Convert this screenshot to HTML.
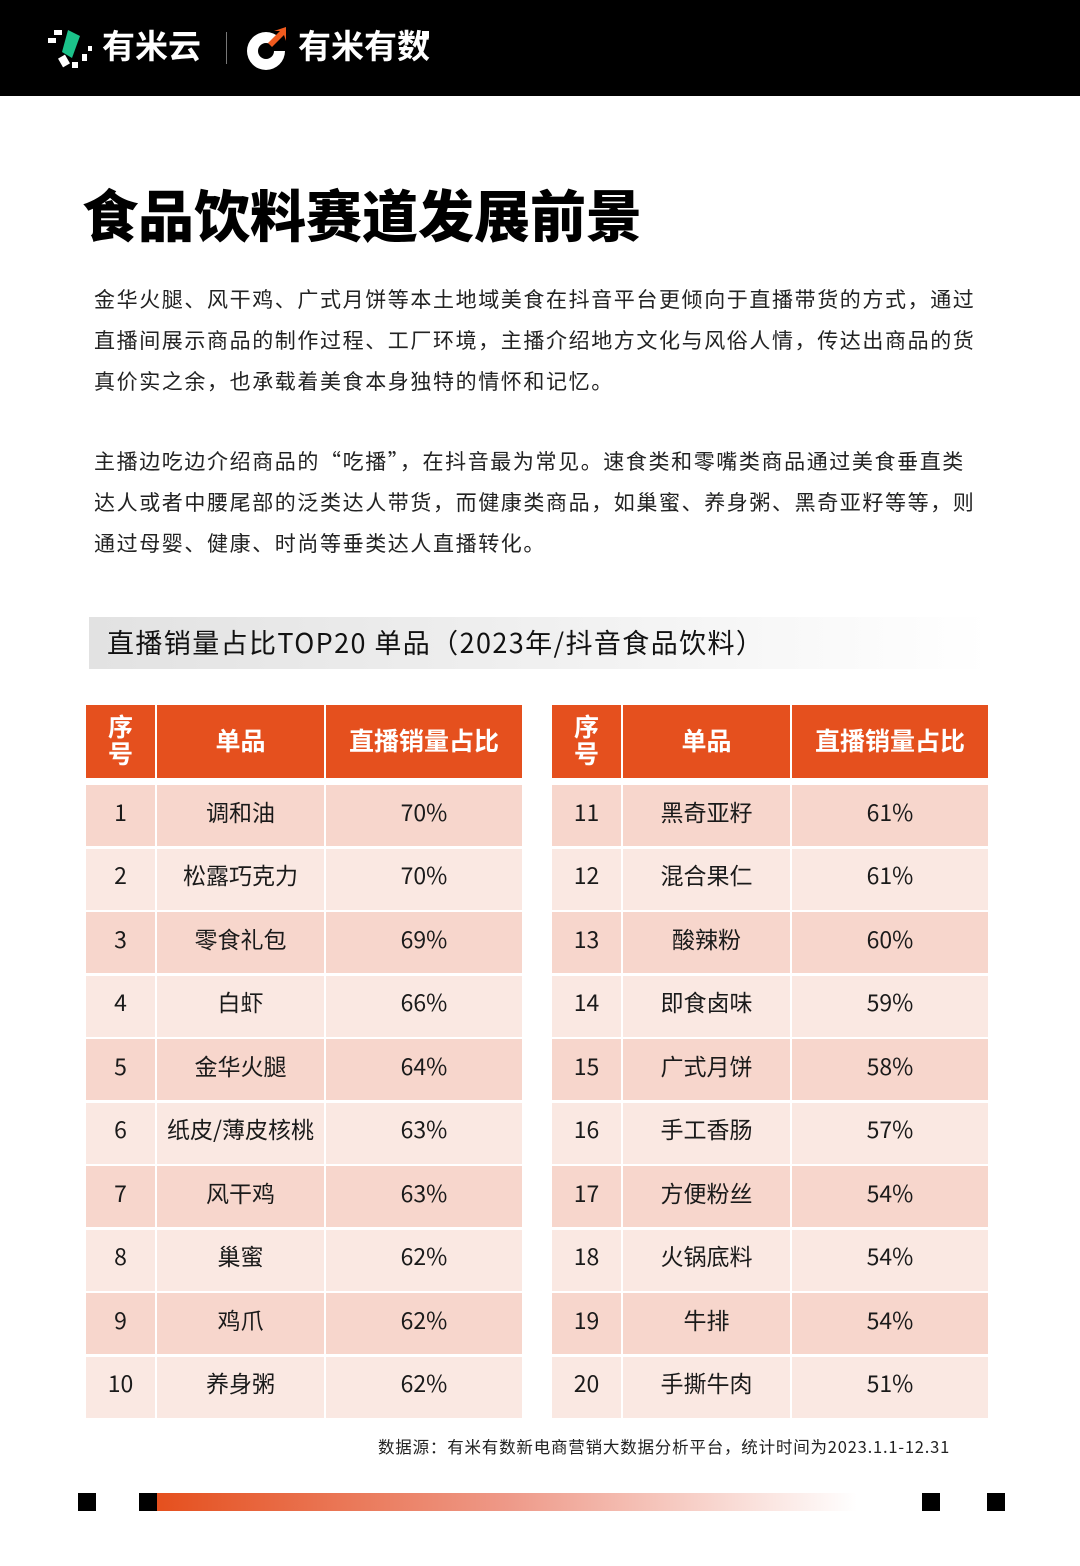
<!DOCTYPE html>
<html><head><meta charset="utf-8">
<style>
*{margin:0;padding:0;box-sizing:border-box}
body{width:1080px;height:1566px;background:#fff;position:relative;overflow:hidden;font-family:"Liberation Sans","Noto Sans CJK SC",sans-serif;color:#1a1a1a}
.abs{position:absolute}
#hdr{left:0;top:0;width:1080px;height:96px;background:#000}
.logo{color:#fff;font-size:33px;font-weight:bold;top:27px;line-height:40px}
#title{left:82px;top:182px;font-size:56px;font-weight:900;line-height:72px;color:#000}
.para{left:94px;font-family:"Noto Sans CJK SC",sans-serif;font-size:21px;line-height:41px;letter-spacing:1.6px;width:960px;color:#222;white-space:nowrap}
#sub{left:89px;top:617px;width:900px;height:52px;background:linear-gradient(90deg,#e2e2e2,#f0f0f0 50%,#fff 100%);font-family:"Noto Sans CJK SC",sans-serif;font-size:27px;line-height:50px;padding-left:18px;color:#111;letter-spacing:1.4px}
.cell{position:absolute;display:flex;align-items:center;justify-content:center;font-family:"Noto Sans CJK SC",sans-serif;font-size:23px;color:#1a1a1a;padding-bottom:10px}
.hd{background:#e5501e;color:#fff;font-weight:bold;font-size:25px;padding-bottom:4px}
#src{left:378px;top:1433px;font-family:"Noto Sans CJK SC",sans-serif;font-size:16.5px;color:#222;line-height:26px;white-space:nowrap;letter-spacing:0.8px}
.sq{position:absolute;top:1493px;width:18px;height:18px;background:#000}
#bar{left:157px;top:1493px;width:700px;height:18px;background:linear-gradient(90deg,#e5501e,#ee9988 50%,#fff 100%)}
</style></head><body>
<div id="hdr" class="abs">
 <svg class="abs" style="left:46px;top:28px" width="50" height="42">
  <rect x="2" y="10" width="8" height="5" fill="#fff"/><rect x="8" y="2" width="8" height="5" fill="#fff"/>
  <polygon points="22,2 34,8 26,30 16,24" fill="#1bc28a"/><rect x="14" y="28" width="8" height="10" fill="#fff" transform="rotate(-30 18 33)"/>
  <rect x="26" y="34" width="6" height="6" fill="#fff"/><rect x="36" y="26" width="5" height="7" fill="#fff"/><rect x="42" y="18" width="4" height="5" fill="#fff"/>
 </svg>
 <div class="abs logo" style="left:102px">有米云</div>
 <div class="abs" style="left:226px;top:32px;width:1px;height:32px;background:#777"></div>
 <svg class="abs" style="left:246px;top:27px" width="44" height="44">
  <circle cx="20" cy="24" r="19" fill="#fff"/><circle cx="20" cy="24" r="8" fill="#000"/>
  <polygon points="20,24 40,4 40,24" fill="#000"/><polygon points="22,16 34,4 28,4 40,0 40,14 38,8 26,20" fill="#f05a1e"/>
 </svg>
 <div class="abs logo" style="left:298px">有米有数</div>
 <div class="abs" style="left:422px;top:31px;width:7px;height:7px;background:#fff"></div>
</div>
<div id="title" class="abs">食品饮料赛道发展前景</div>
<div class="abs para" style="top:279px">金华火腿、风干鸡、广式月饼等本土地域美食在抖音平台更倾向于直播带货的方式，通过<br>直播间展示商品的制作过程、工厂环境，主播介绍地方文化与风俗人情，传达出商品的货<br>真价实之余，也承载着美食本身独特的情怀和记忆。</div>
<div class="abs para" style="top:441px">主播边吃边介绍商品的“吃播”，在抖音最为常见。速食类和零嘴类商品通过美食垂直类<br>达人或者中腰尾部的泛类达人带货，而健康类商品，如巢蜜、养身粥、黑奇亚籽等等，则<br>通过母婴、健康、时尚等垂类达人直播转化。</div>
<div id="sub" class="abs">直播销量占比TOP20 单品（2023年/抖音食品饮料）</div>
<div id="tables"></div>
<div id="src" class="abs">数据源：有米有数新电商营销大数据分析平台，统计时间为2023.1.1-12.31</div>
<div class="sq" style="left:78px"></div>
<div class="sq" style="left:139px"></div>
<div id="bar" class="abs"></div>
<div class="sq" style="left:922px"></div>
<div class="sq" style="left:987px"></div>
<script>
const ranks=[1,2,3,4,5,6,7,8,9,10,11,12,13,14,15,16,17,18,19,20];
const items=["调和油","松露巧克力","零食礼包","白虾","金华火腿","纸皮/薄皮核桃","风干鸡","巢蜜","鸡爪","养身粥","黑奇亚籽","混合果仁","酸辣粉","即食卤味","广式月饼","手工香肠","方便粉丝","火锅底料","牛排","手撕牛肉"];
const shares=[70,70,69,66,64,63,63,62,62,62,61,61,60,59,58,57,54,54,54,51];
const root=document.getElementById('tables');
function cell(x,y,w,h,txt,cls,bg){
 const d=document.createElement('div');
 d.className='cell '+(cls||'');
 
 
 d.style.left=x+'px';d.style.top=y+'px';d.style.width=w+'px';d.style.height=h+'px';
 if(bg)d.style.background=bg;
 d.innerHTML=txt;root.appendChild(d);
}
[86,552].forEach((x0,t)=>{
 const cols=[[x0,69],[x0+71,167],[x0+240,196]];
 cell(cols[0][0],705,cols[0][1],73,'<span style="line-height:27px;text-align:center">序<br>号</span>','hd');
 cell(cols[1][0],705,cols[1][1],73,'单品','hd');
 cell(cols[2][0],705,cols[2][1],73,'直播销量占比','hd');
 for(let i=0;i<10;i++){
  const k=t*10+i;
  const y=785+i*63.5;
  const bg=i%2===0?'#f7d6cc':'#fae8e2';
  cell(cols[0][0],y,cols[0][1],61,ranks[k],'',bg);
  cell(cols[1][0],y,cols[1][1],61,items[k],'',bg);
  cell(cols[2][0],y,cols[2][1],61,shares[k]+'%','',bg);
 }
});
</script>
</body></html>
